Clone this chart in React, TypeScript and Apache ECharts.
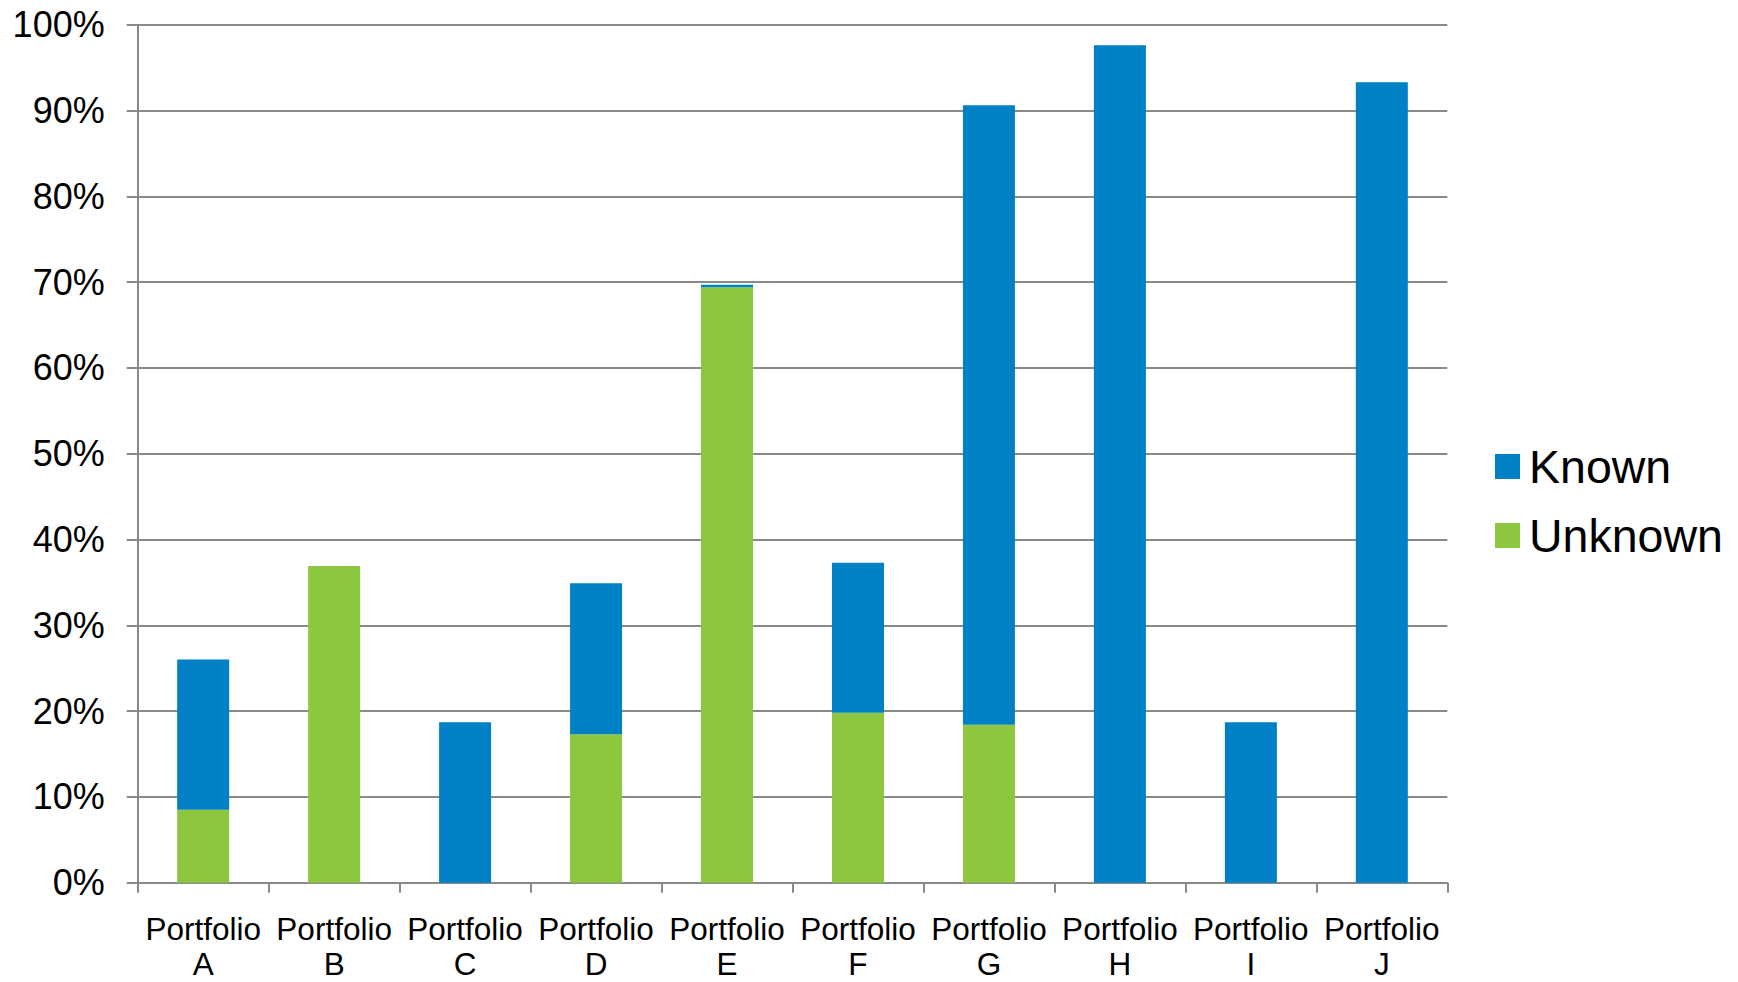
import React, { useEffect, useRef } from "react";
import * as echarts from "echarts";

// Portfolio share of positions with known vs unknown classification (%)
const categories = [
  "Portfolio\nA",
  "Portfolio\nB",
  "Portfolio\nC",
  "Portfolio\nD",
  "Portfolio\nE",
  "Portfolio\nF",
  "Portfolio\nG",
  "Portfolio\nH",
  "Portfolio\nI",
  "Portfolio\nJ",
];

const unknownValues = [8.5, 36.9, 0, 17.3, 69.4, 19.8, 18.4, 0, 0, 0];
const knownValues = [17.5, 0, 18.7, 17.6, 0.3, 17.5, 72.2, 97.6, 18.7, 93.3];

const seriesNames = ["Known", "Unknown"];

const BLUE = "#0081C6";
const GREEN = "#8DC63F";
const GRID_GRAY = "#8a8a8a";
const FONT = "'Liberation Sans', Arial, Helvetica, sans-serif";

export default function App() {
  const ref = useRef<HTMLDivElement>(null);

  useEffect(() => {
    if (!ref.current) return;
    const chart = echarts.init(ref.current, undefined, { renderer: "svg" });
    chart.setOption({
      animation: false,
      backgroundColor: "#ffffff",
      textStyle: { fontFamily: FONT },
      grid: {
        left: 137.7,
        right: 290.7,
        top: 24.7,
        bottom: 99.3,
        containLabel: false,
        outerBoundsMode: "none",
      },
      legend: {
        data: seriesNames,
        orient: "vertical",
        left: 1490,
        top: 438,
        icon: "rect",
        itemWidth: 25,
        itemHeight: 25,
        itemGap: 22,
        textStyle: {
          fontFamily: FONT,
          fontSize: 46.5,
          lineHeight: 47,
          color: "#000",
          padding: [0, 0, 0, 4],
        },
      },
      xAxis: {
        type: "category",
        data: categories,
        axisLine: { show: true, lineStyle: { color: GRID_GRAY, width: 2 } },
        axisTick: {
          show: true,
          alignWithLabel: false,
          length: 10,
          lineStyle: { color: GRID_GRAY, width: 2 },
        },
        axisLabel: {
          interval: 0,
          color: "#000",
          fontFamily: FONT,
          fontSize: 31.5,
          lineHeight: 35,
          margin: 29,
        },
        splitLine: { show: false },
      },
      yAxis: {
        type: "value",
        min: 0,
        max: 100,
        interval: 10,
        axisLine: { show: true, lineStyle: { color: GRID_GRAY, width: 2 } },
        axisTick: {
          show: true,
          length: 11,
          lineStyle: { color: GRID_GRAY, width: 2 },
        },
        axisLabel: {
          formatter: "{value}%",
          color: "#000",
          fontFamily: FONT,
          fontSize: 36,
          margin: 33,
        },
        splitLine: { show: true, lineStyle: { color: GRID_GRAY, width: 2 } },
      },
      series: [
        {
          name: "Unknown",
          type: "bar",
          stack: "total",
          barWidth: 52,
          data: unknownValues,
          itemStyle: { color: GREEN },
        },
        {
          name: "Known",
          type: "bar",
          stack: "total",
          barWidth: 52,
          data: knownValues,
          itemStyle: { color: BLUE },
        },
      ],
    });
    return () => chart.dispose();
  }, []);

  return (
    <div
      ref={ref}
      style={{ position: "fixed", left: 0, top: 0, width: 1738, height: 982 }}
    />
  );
}
